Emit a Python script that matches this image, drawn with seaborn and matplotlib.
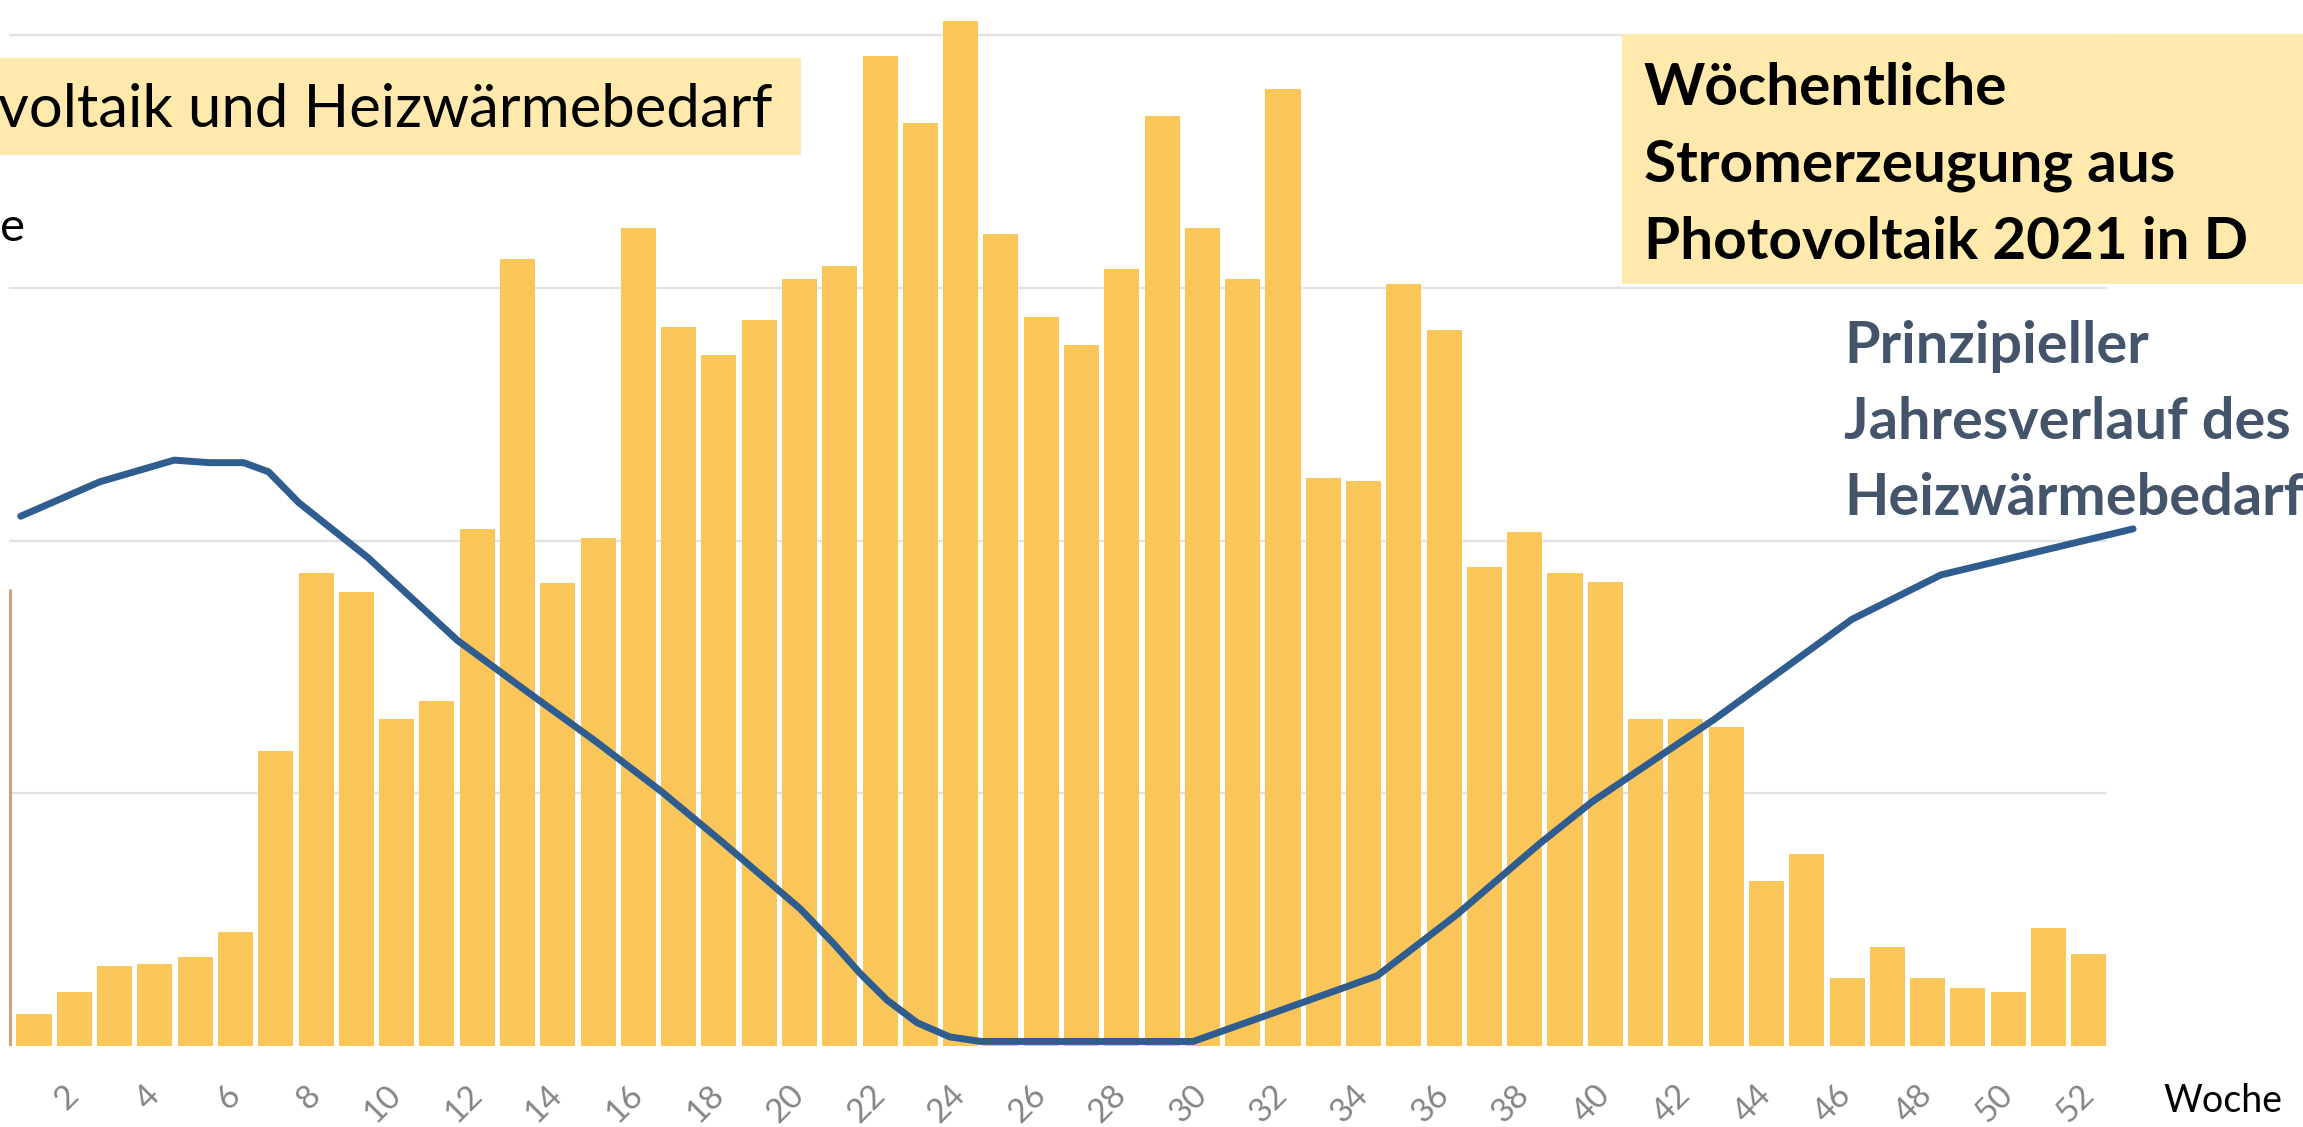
import numpy as np
import pandas as pd
import matplotlib
matplotlib.use("Agg")
import matplotlib.pyplot as plt
import seaborn as sns

# Weekly PV generation in Germany 2021 (TWh per week)
weeks = list(range(1, 53))
pv_twh = [0.064, 0.107, 0.158, 0.163, 0.177, 0.226, 0.584, 0.936, 0.899, 0.646,
          0.683, 1.022, 1.556, 0.916, 1.004, 1.618, 1.423, 1.367, 1.436, 1.518,
          1.544, 1.958, 1.825, 2.027, 1.606, 1.443, 1.386, 1.537, 1.840, 1.618,
          1.518, 1.894, 1.124, 1.118, 1.508, 1.417, 0.948, 1.016, 0.936, 0.917,
          0.646, 0.646, 0.631, 0.327, 0.379, 0.135, 0.195, 0.135, 0.114, 0.107,
          0.234, 0.182]

# Schematic annual course of the space-heating demand (same scale, arbitrary)
heat_week = [0.67, 2.63, 4.48, 5.34, 6.20, 6.82, 7.57, 9.29, 11.5, 13.24,
             14.97, 16.58, 18.06, 20.01, 20.83, 21.50, 22.17, 22.92, 23.73,
             24.5, 29.77, 31.36, 34.34, 36.3, 38.38, 39.67, 42.7, 46.12, 48.33,
             53.1]
heat_val = [1.048, 1.116, 1.159, 1.154, 1.154, 1.136, 1.075, 0.966, 0.803, 0.701,
            0.601, 0.503, 0.405, 0.272, 0.204, 0.144, 0.091, 0.046, 0.018,
            0.009, 0.009, 0.054, 0.139, 0.259, 0.401, 0.483, 0.646, 0.844, 0.932,
            1.023]

tick_weeks = list(range(2, 53, 2))
grid_levels = [0.5, 1.0, 1.5, 2.0]

W, H = 2303, 1127
sns.set_style("white")
plt.rcParams["font.family"] = ["Lato", "DejaVu Sans"]

fig = plt.figure(figsize=(W / 100, H / 100), dpi=100)
base_px = 1046          # baseline, pixels from top
px_per_unit = 505.5     # vertical pixels per TWh
bar0_px, pitch_px = 34, 40.29

ax = fig.add_axes([0, (H - base_px) / H, 1, base_px / H])
ax.set_facecolor("white")

df = pd.DataFrame({"Woche": weeks, "PV": pv_twh})
sns.barplot(data=df, x="Woche", y="PV", color="#FAC65A", saturation=1,
            width=0.87, edgecolor="none", ax=ax, zorder=2)

hx = [w - 1 for w in heat_week]
sns.lineplot(x=hx, y=heat_val, color="#2F5D90", linewidth=5, sort=False,
             estimator=None, ax=ax, zorder=4)
for ln in ax.lines:
    ln.set_solid_joinstyle("round")
    ln.set_solid_capstyle("round")

ax.set_xlim(-bar0_px / pitch_px, (W - bar0_px) / pitch_px)
ax.set_ylim(0, base_px / px_per_unit)

# horizontal gridlines
gx0 = (9 - bar0_px) / pitch_px
gx1 = (2107 - bar0_px) / pitch_px
ax.hlines(grid_levels, gx0, gx1, colors="#E2E2E2", linewidth=1.6, zorder=1)
# short left axis stub
ax.vlines((10 - bar0_px) / pitch_px, 0, 0.904, colors="#C9A47C", linewidth=2.2, zorder=3)

for s in ax.spines.values():
    s.set_visible(False)
ax.set_yticks([])
ax.set_xticks([w - 1 for w in tick_weeks])
ax.set_xticklabels([str(w) for w in tick_weeks], rotation=45, ha="right",
                   va="center", rotation_mode="anchor", color="#858585",
                   fontsize=24)
ax.tick_params(axis="x", length=0, pad=32)
ax.set_xlabel("")
ax.set_ylabel("")
if ax.get_legend():
    ax.get_legend().remove()


def fx(px):
    return px / W


def fy(py):
    return 1 - py / H


box_color = "#FFE9AD"
# left title box
fig.patches.append(plt.Rectangle((0, fy(155)), fx(801), (155 - 58) / H,
                                 transform=fig.transFigure, facecolor=box_color,
                                 edgecolor="none", zorder=5))
fig.text(fx(-2), fy(127), "voltaik und Heizwärmebedarf", fontsize=43,
         color="black", ha="left", va="baseline", zorder=6)
fig.text(fx(0), fy(241), "e", fontsize=34, color="black", ha="left",
         va="baseline", zorder=6)

# right title box
fig.patches.append(plt.Rectangle((fx(1622), fy(284)), fx(W - 1622), (284 - 34) / H,
                                 transform=fig.transFigure, facecolor=box_color,
                                 edgecolor="none", zorder=5))
for i, line in enumerate(["Wöchentliche", "Stromerzeugung aus",
                          "Photovoltaik 2021 in D"]):
    fig.text(fx(1644), fy(105 + 77 * i), line, fontsize=42, fontweight="bold",
             color="black", ha="left", va="baseline", zorder=6)

for i, line in enumerate(["Prinzipieller", "Jahresverlauf des",
                          "Heizwärmebedarf"]):
    fig.text(fx(1844), fy(363 + 76 * i), line, fontsize=41.5, fontweight="bold",
             color="#44546A", ha="left", va="baseline", zorder=6)

fig.text(fx(2163), fy(1112), "Woche", fontsize=27, color="black",
         ha="left", va="baseline")

fig.savefig("out.png", dpi=100, facecolor="white")
